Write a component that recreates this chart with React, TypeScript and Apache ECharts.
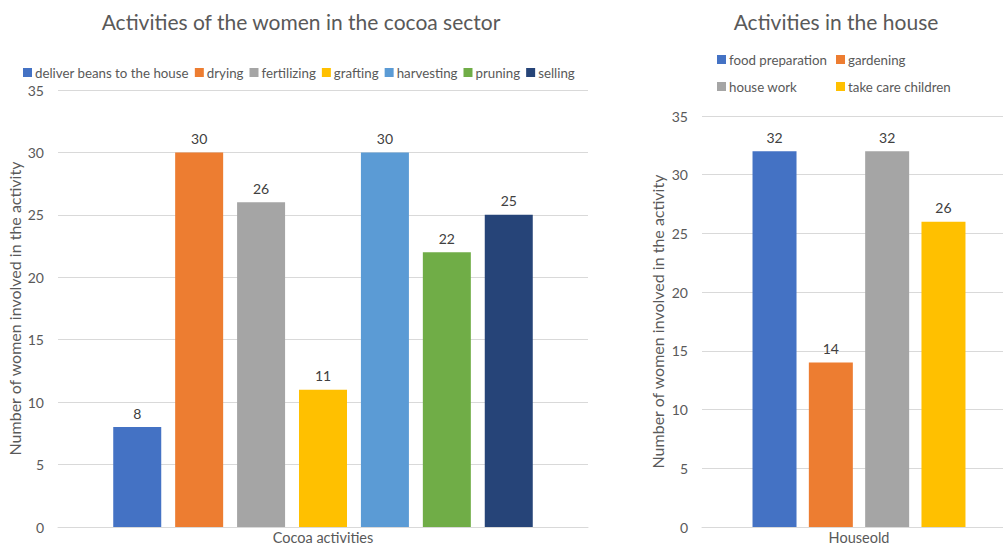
import React, { useEffect, useRef } from "react";
import * as echarts from "echarts";

const cocoaCategory = ["Cocoa activities"];
const cocoaNames = ["deliver beans to the house", "drying", "fertilizing", "grafting", "harvesting", "pruning", "selling"];
const cocoaValues = [8, 30, 26, 11, 30, 22, 25];
const cocoaColors = ["#4472C4", "#ED7D31", "#A5A5A5", "#FFC000", "#5B9BD5", "#70AD47", "#264478"];

const houseCategory = ["Houseold"];
const houseNames = ["food preparation", "gardening", "house work", "take care children"];
const houseValues = [32, 14, 32, 26];
const houseColors = ["#4472C4", "#ED7D31", "#A5A5A5", "#FFC000"];

const yTicks = { min: 0, max: 35, interval: 5 };
const yName = "Number of women involved in the activity";

export default function App() {
  const ref = useRef<HTMLDivElement>(null);
  useEffect(() => {
    const chart = echarts.init(ref.current!, null, { renderer: "svg" });
    const font = "Lato, 'Open Sans', 'Noto Sans', sans-serif";
    const textColor = "#595959";
    const yAxisCommon = (gridIndex: number) => ({
      type: "value" as const,
      gridIndex,
      ...yTicks,
      name: yName,
      nameLocation: "middle" as const,
      nameGap: gridIndex === 0 ? 36 : 37,
      nameMoveOverlap: false,
      nameTextStyle: { color: textColor, fontSize: 16, fontFamily: font },
      axisLabel: { color: textColor, fontSize: 14, fontFamily: font, margin: 14 },
      axisLine: { show: false },
      axisTick: { show: false },
      splitLine: { lineStyle: { color: "#D9D9D9" } },
    });
    const xAxisCommon = (gridIndex: number, data: string[]) => ({
      type: "category" as const,
      gridIndex,
      data,
      axisLabel: { color: textColor, fontSize: 14.5, fontFamily: font, margin: 3 },
      axisLine: { lineStyle: { color: "#D9D9D9" } },
      axisTick: { show: false },
    });
    const series: any[] = [];
    cocoaNames.forEach((n, i) => {
      series.push({
        type: "bar",
        name: n,
        xAxisIndex: 0,
        yAxisIndex: 0,
        data: [cocoaValues[i]],
        itemStyle: { color: cocoaColors[i] },
        barWidth: 48,
        barGap: "29%",
        label: { show: true, position: "top", color: "#404040", fontSize: 14, fontFamily: font, distance: 7 },
      });
    });
    houseNames.forEach((n, i) => {
      series.push({
        type: "bar",
        name: n,
        xAxisIndex: 1,
        yAxisIndex: 1,
        data: [houseValues[i]],
        itemStyle: { color: houseColors[i] },
        barWidth: 44,
        barGap: "28%",
        label: { show: true, position: "top", color: "#404040", fontSize: 14, fontFamily: font, distance: 7 },
      });
    });
    const legendText = { color: textColor, fontSize: 13.3, fontFamily: font, padding: [0, 0, 0, -2] };
    const houseLegendPos = [
      [712, 48],
      [831, 48],
      [712, 75],
      [831, 75],
    ];
    chart.setOption({
      animation: false,
      backgroundColor: "#FFFFFF",
      textStyle: { fontFamily: font },
      title: [
        { text: "Activities of the women in the cocoa sector", left: 296, top: 6, textAlign: "center", textStyle: { color: textColor, fontSize: 21, fontWeight: "normal", fontFamily: font } },
        { text: "Activities in the house", left: 831, top: 6, textAlign: "center", textStyle: { color: textColor, fontSize: 21, fontWeight: "normal", fontFamily: font } },
      ],
      legend: [
        {
          data: cocoaNames,
          left: 18,
          top: 61,
          itemWidth: 9,
          itemHeight: 9,
          itemGap: 6,
          icon: "rect",
          textStyle: legendText,
        },
        ...houseNames.map((n, i) => ({
          data: [n],
          left: houseLegendPos[i][0],
          top: houseLegendPos[i][1],
          itemWidth: 9,
          itemHeight: 9,
          icon: "rect",
          textStyle: legendText,
        })),
      ],
      grid: [
        { left: 58, top: 90, width: 530, height: 437, outerBoundsMode: "none", containLabel: false },
        { left: 702, top: 116, width: 314, height: 411, outerBoundsMode: "none", containLabel: false },
      ],
      xAxis: [xAxisCommon(0, cocoaCategory), xAxisCommon(1, houseCategory)],
      yAxis: [yAxisCommon(0), yAxisCommon(1)],
      series,
    });
    return () => chart.dispose();
  }, []);
  return <div ref={ref} style={{ position: "fixed", left: 0, top: 0, width: 1003, height: 546 }} />;
}
